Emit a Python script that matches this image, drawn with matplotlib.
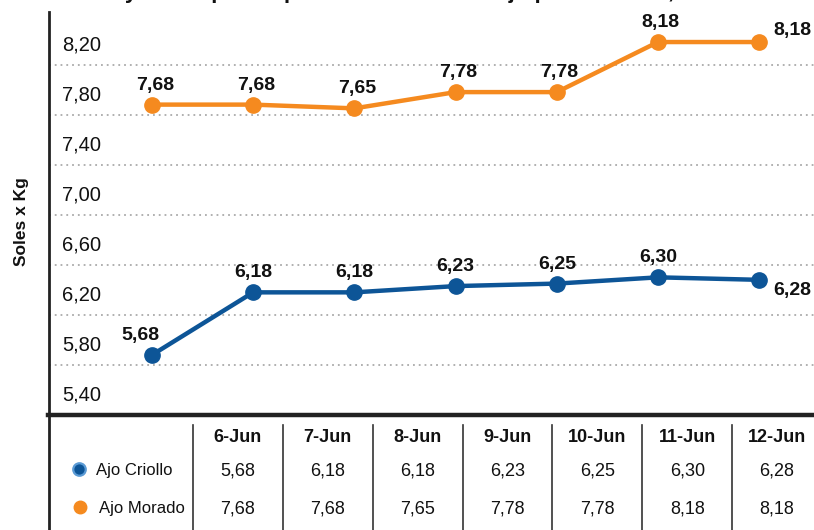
import matplotlib
matplotlib.use("Agg")
import matplotlib.pyplot as plt
from matplotlib.lines import Line2D
import matplotlib.transforms as mtransforms

plt.rcParams['font.family'] = ['Liberation Sans Narrow', 'Liberation Sans', 'DejaVu Sans']

# ---------------- data ----------------
dates = ["6-Jun", "7-Jun", "8-Jun", "9-Jun", "10-Jun", "11-Jun", "12-Jun"]
criollo = [5.68, 6.18, 6.18, 6.23, 6.25, 6.30, 6.28]
morado = [7.68, 7.68, 7.65, 7.78, 7.78, 8.18, 8.18]
series_names = ["Ajo Criollo", "Ajo Morado"]
ytick_vals = [5.40, 5.80, 6.20, 6.60, 7.00, 7.40, 7.80, 8.20]
grid_vals = [5.60, 6.00, 6.40, 6.80, 7.20, 7.60, 8.00]
title_text = "Lima Mayorista: precio promedio diario del ajo por variedad, en la semana y mes"

BLUE = "#0D5597"
ORANGE = "#F58A1F"
DARK = "#222222"

W, H = 814, 530
fig = plt.figure(figsize=(W / 100, H / 100), dpi=100)

def fx(px):
    return px / W

def fy(py):
    return 1 - py / H

# main axes
ax_left, ax_right, ax_top, ax_bot = 49, 814, 12, 415
ax = fig.add_axes([fx(ax_left), fy(ax_bot), fx(ax_right - ax_left), (ax_bot - ax_top) / H])
x = list(range(len(dates)))
step = 101.2
x0px = 152
ax.set_xlim(-(x0px - ax_left) / step, (ax_right - x0px) / step)
ax.set_ylim(5.2, 8.42)

for g in grid_vals:
    ax.axhline(g, color="#AAAAAA", lw=1.3, ls=(0, (1, 2.2)), zorder=1)

ax.plot(x, morado, color=ORANGE, lw=3.2, marker="o", ms=11, zorder=3, solid_capstyle="round")
ax.plot(x, criollo, color=BLUE, lw=3.2, marker="o", ms=11, zorder=3, solid_capstyle="round")

ax.set_xticks([])
ax.set_yticks([])
for s in ["top", "right", "bottom"]:
    ax.spines[s].set_visible(False)
ax.spines["left"].set_linewidth(2.0)
ax.spines["left"].set_color(DARK)
ax.patch.set_alpha(0)

# y tick labels drawn inside the plot
for v in ytick_vals:
    tr = mtransforms.blended_transform_factory(ax.transAxes, ax.transData)
    tr = tr + mtransforms.ScaledTranslation(0, -5 / 100, fig.dpi_scale_trans)
    ax.text(0.017, v, f"{v:.2f}".replace(".", ","), transform=tr, ha="left", va="center",
            fontsize=14.5, color="#111111")

# data labels
def lab(v):
    return f"{v:.2f}".replace(".", ",")

last = len(dates) - 1
for i, v in enumerate(morado):
    if i == last:
        xy_off = (24, 8)
    else:
        xy_off = (2, 14)
    ax.annotate(lab(v), (i, v), xytext=xy_off, textcoords="offset points",
                ha="center", va="center", fontsize=14, fontweight="bold", color="#111111", zorder=5)
for i, v in enumerate(criollo):
    if i == last:
        xy_off = (24, -8)
    elif i == 0:
        xy_off = (-8, 14)
    else:
        xy_off = (0, 14)
    ax.annotate(lab(v), (i, v), xytext=xy_off, textcoords="offset points",
                ha="center", va="center", fontsize=14, fontweight="bold", color="#111111", zorder=5)

# y axis label
fig.text(fx(22), fy(222), "Soles x Kg", rotation=90, ha="center", va="center",
         fontsize=12.5, fontweight="bold", color="#111111")

# cut-off title (only the descenders are visible, as in the reference)
fig.text(fx(462), fy(-2), title_text, ha="center", va="baseline",
         fontsize=16, fontweight="bold", color="#111111")

# ---------------- table ----------------
ov = fig.add_axes([0, 0, 1, 1])
ov.set_xlim(0, W)
ov.set_ylim(H, 0)
ov.axis("off")
ov.patch.set_alpha(0)

# thick separator and left border
ov.add_line(Line2D([48, W], [415, 415], color=DARK, lw=3.2))
ov.add_line(Line2D([49, 49], [415, H], color=DARK, lw=2.0))

col0 = 193
colw = (W + 8 - col0) / len(dates)
row_header, row1, row2 = 438, 471, 509
for j, d in enumerate(dates):
    left = col0 + j * colw
    ov.add_line(Line2D([left, left], [425, H], color="#333333", lw=1.2))
    cx = left + colw / 2
    ov.text(cx, row_header, d, ha="center", va="center", fontsize=13, fontweight="bold", color="#111111")
    ov.text(cx, row1, lab(criollo[j]), ha="center", va="center", fontsize=13, color="#111111")
    ov.text(cx, row2, lab(morado[j]), ha="center", va="center", fontsize=13, color="#111111")

# legend entries
ov.plot([79], [469], marker="o", ms=9, color=BLUE, mec="#5B9BD5", mew=1.6)
ov.text(96, row1, series_names[0], ha="left", va="center", fontsize=12, color="#111111")
ov.plot([80], [507], marker="o", ms=9, color=ORANGE, mec=ORANGE)
ov.text(99, row2, series_names[1], ha="left", va="center", fontsize=12, color="#111111")

fig.savefig("out.png", dpi=100)
